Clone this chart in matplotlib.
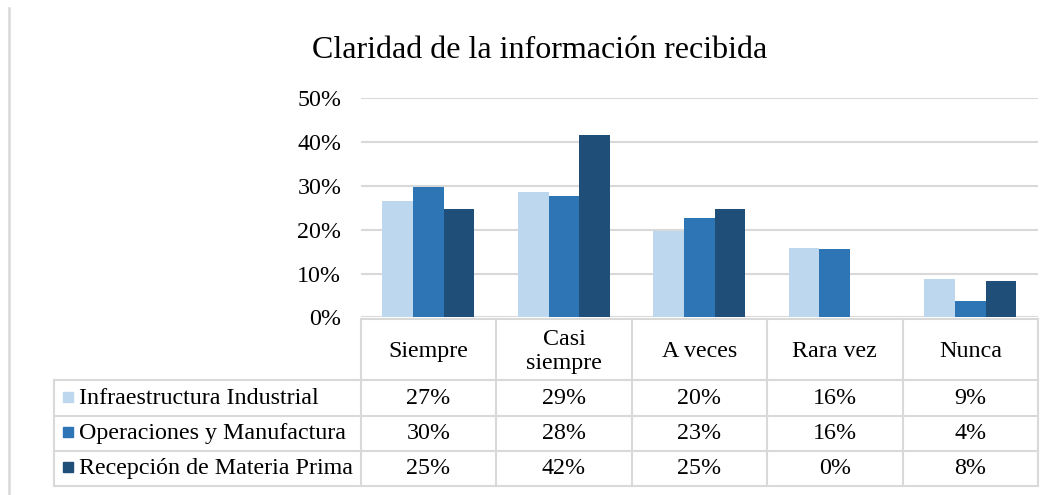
import matplotlib
matplotlib.use("Agg")
import matplotlib.pyplot as plt
from matplotlib.patches import Rectangle

plt.rcParams["font.family"] = ["Liberation Serif", "DejaVu Serif"]

title = "Claridad de la información recibida"
categories = ["Siempre", "Casi\nsiempre", "A veces", "Rara vez", "Nunca"]
series_names = ["Infraestructura Industrial", "Operaciones y Manufactura",
                "Recepción de Materia Prima"]
infraestructura = [26.6, 28.6, 19.6, 15.9, 8.8]
operaciones = [29.8, 27.8, 22.6, 15.5, 3.8]
recepcion = [24.8, 41.7, 24.8, 0.0, 8.2]
yticks = [0, 10, 20, 30, 40, 50]

colors = ["#BDD7EE", "#2E75B6", "#1F4E79"]
grid_c = "#d9d9d9"
series = [infraestructura, operaciones, recepcion]
fs = 17.3

W, H = 1060, 495
fig = plt.figure(figsize=(W / 100, H / 100), dpi=100)

# pixel layout of plot area
x0, x1 = 360.7, 1038.0
y_top, y_zero = 98.3, 317.3
ax = fig.add_axes([x0 / W, 1 - y_zero / H, (x1 - x0) / W, (y_zero - y_top) / H])

bw = 0.2266
for k, vals in enumerate(series):
    xs = [i + (k - 1) * bw for i in range(len(vals))]
    ax.bar(xs, vals, width=bw, color=colors[k], zorder=3)

ax.set_xlim(-0.5, len(categories) - 0.5)
ax.set_ylim(0, 50)
ax.set_yticks(yticks)
ax.set_yticklabels([f"{t}%" for t in yticks], fontsize=fs)
ax.set_xticks([])
ax.tick_params(axis="y", length=0, pad=14)
for s in ax.spines.values():
    s.set_visible(False)
ax.yaxis.grid(True, color=grid_c, linewidth=1.5, zorder=0)
ax.set_axisbelow(True)

# overlay in pixel coordinates for title, data table and border
ov = fig.add_axes([0, 0, 1, 1], zorder=-1)
ov.set_xlim(0, W)
ov.set_ylim(H, 0)
ov.axis("off")

ov.text(540, 51, title, ha="center", va="center", fontsize=23)
ov.plot([8.5, 8.5], [8, H], color=grid_c, linewidth=1.8)

col_w = (x1 - x0) / len(categories)
leg_x = 54.0
row_y = [319.3, 380.0, 416.0, 451.0, 486.0]
lw = 1.5

# header grid
ov.plot([x0, x1], [row_y[0], row_y[0]], color=grid_c, lw=lw)
for i in range(len(categories) + 1):
    cx = x0 + i * col_w
    ov.plot([cx, cx], [row_y[0], row_y[-1]], color=grid_c, lw=lw)
for y in row_y[1:]:
    ov.plot([leg_x, x1], [y, y], color=grid_c, lw=lw)
ov.plot([leg_x, leg_x], [row_y[1], row_y[-1]], color=grid_c, lw=lw)

for i, cat in enumerate(categories):
    ov.text(x0 + (i + 0.5) * col_w, (row_y[0] + row_y[1]) / 2 + 2, cat,
            ha="center", va="center", fontsize=fs, linespacing=1.2)

for k, (name, vals) in enumerate(zip(series_names, series)):
    yc = (row_y[k + 1] + row_y[k + 2]) / 2
    ov.add_patch(Rectangle((62.7, yc - 6.5), 10.4, 10.4, color=colors[k]))
    ov.text(79, yc, name, ha="left", va="center", fontsize=fs)
    for i, v in enumerate(vals):
        ov.text(x0 + (i + 0.5) * col_w, yc, f"{v:.0f}%",
                ha="center", va="center", fontsize=fs)

fig.savefig("out.png", dpi=100, facecolor="white")
